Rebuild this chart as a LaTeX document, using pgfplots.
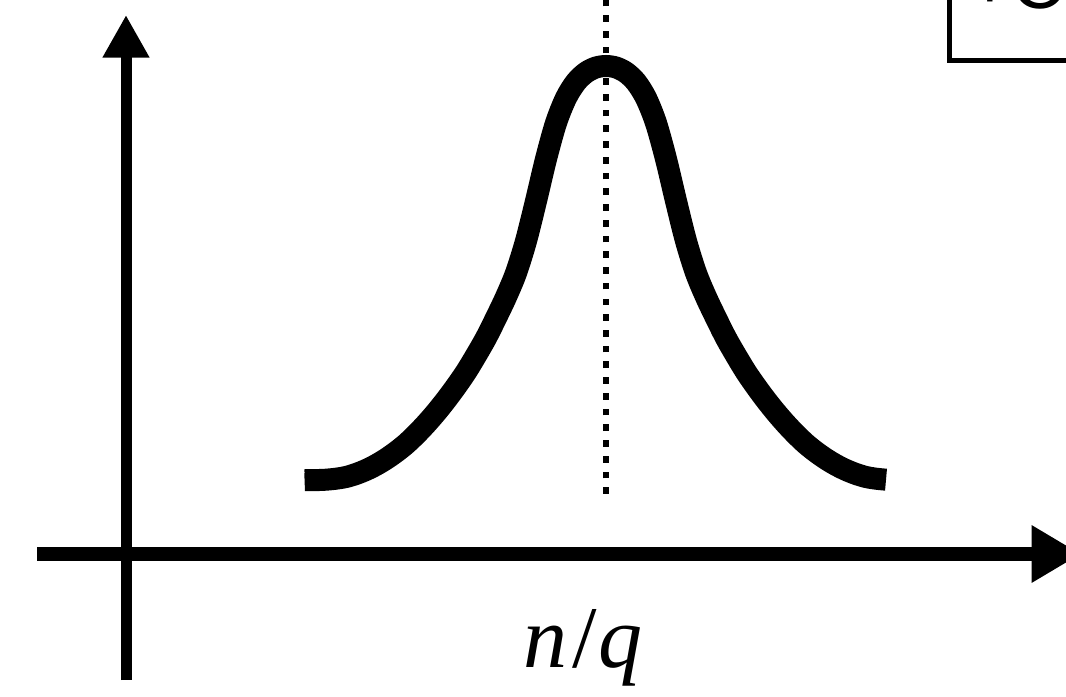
\documentclass[border=0pt]{standalone}
\usepackage{pgfplots}
\pgfplotsset{compat=1.18}
\usepackage{fontspec}
\setmainfont{Liberation Serif}
\newfontfamily\boxfont{Liberation Sans}
\usetikzlibrary{arrows.meta}
\begin{document}
\begin{tikzpicture}
\begin{axis}[
  x=0.75pt, y=0.75pt,
  xmin=-89, xmax=955, ymin=-126, ymax=539,
  axis lines=middle,
  xtick=\empty, ytick=\empty,
  clip=false,
  every inner x axis line/.append style={line width=10.5pt, -{Triangle[length=37pt,width=40.5pt]}},
  every inner y axis line/.append style={line width=8.25pt, -{Triangle[length=32pt,width=33pt]}},
]
\addplot[black, line width=16.5pt, smooth, tension=0.5] coordinates {
(179,73.8) (180,73.8) (190,73.9) (200,74.3) (210,75.3) (220,77) (230,80) (240,84)
(250,89) (260,95) (270,102) (280,110) (290,119.5) (300,130) (310,141.5)
(320,154) (330,167.5) (340,182) (350,198.5) (360,216) (370,236) (380,257)
(390,281) (400,313) (410,353) (420,395) (430,431) (440,456) (450,472)
(460,481.5) (470,486.5) (480,488)
(490,486.5) (500,481.5) (510,472) (520,456) (530,431) (540,395) (550,353)
(560,313) (570,281) (580,257) (590,236) (600,216) (610,198.5) (620,182)
(630,167.5) (640,154) (650,141.5) (660,130) (670,119.5) (680,110) (690,102)
(700,95) (710,89) (720,84) (730,80) (740,77) (750,75.3) (760,74.3)
};
\addplot[black, line width=5pt, dash pattern=on 5pt off 6.8pt] coordinates {(480,60) (480,560)};
\draw[line width=3.75pt] (axis cs:823,620) -- (axis cs:823,493) -- (axis cs:1000,493);
\node[anchor=base west, inner sep=0pt, font=\boxfont\fontsize{56}{60}\selectfont] at (axis cs:842,545) {+C};
\node[anchor=base, inner sep=0pt, font=\fontsize{66}{70}\selectfont] at (axis cs:457,-113) {\textit{n}\kern4pt/\kern1pt\textit{q}};
\coordinate (BL) at (axis cs:-126,-142);
\coordinate (TR) at (axis cs:940,554);
\end{axis}
\pgfresetboundingbox
\useasboundingbox (BL) rectangle (TR);
\end{tikzpicture}
\end{document}
